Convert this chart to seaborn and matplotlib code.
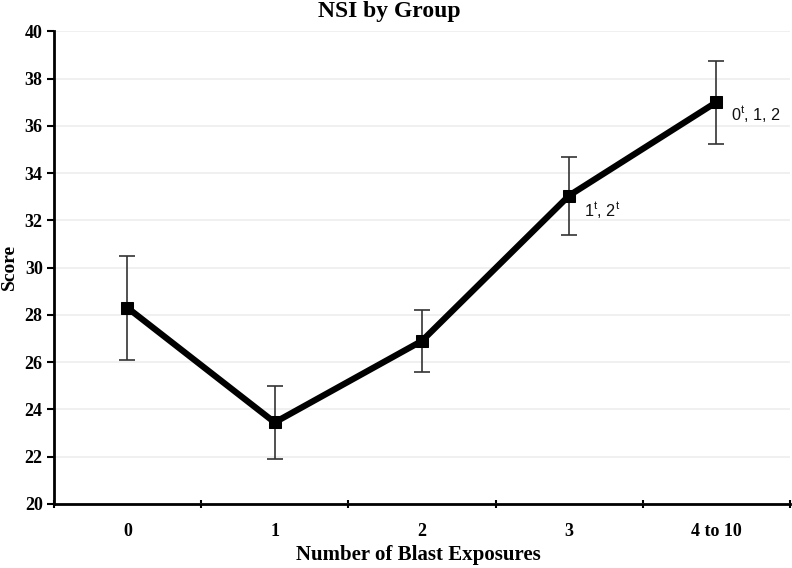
import matplotlib
matplotlib.use("Agg")
import matplotlib.pyplot as plt
import seaborn as sns
import pandas as pd
from matplotlib.ticker import FixedLocator, NullFormatter

groups = ["0", "1", "2", "3", "4 to 10"]
means = [28.3, 23.45, 26.9, 33.05, 37.0]
errs = [2.2, 1.55, 1.3, 1.65, 1.75]
annotations = {3: "1$^{\\mathregular{t}}$, 2$^{\\mathregular{t}}$", 4: "0$^{\\mathregular{t}}$, 1, 2"}

df = pd.DataFrame({"group": groups, "mean": means, "err": errs})

sns.set_theme(style="white")
plt.rcParams["font.family"] = ["Liberation Serif", "DejaVu Serif"]

fig = plt.figure(figsize=(7.92, 5.68), dpi=100)
ax = fig.add_axes([0.068, 0.1127, 0.9295, 0.8323])

ax.errorbar(df["group"], df["mean"], yerr=df["err"], fmt="none", ecolor="#333333",
            elinewidth=1.2, capsize=6, capthick=1.2, zorder=2)
sns.lineplot(data=df, x="group", y="mean", ax=ax, color="black", linewidth=4.5,
             marker="s", markersize=9, markeredgecolor="black", sort=False, zorder=3)
ax.set_xlabel("")
ax.set_ylabel("")

offsets = {3: -0.62, 4: -0.5}
for i, txt in annotations.items():
    ax.text(i + 0.1, means[i] + offsets[i], txt,
            fontsize=11.7, family="Liberation Sans", va="center", ha="left", color="#111111")

ax.set_xlim(-0.5, 4.5)
ax.set_ylim(20, 40)
ax.set_yticks(range(20, 41, 2))
ax.yaxis.grid(True, color="#eeeeee", linewidth=1.2)
ax.xaxis.grid(False)
ax.set_axisbelow(True)

ax.set_xticks(range(len(groups)))
ax.set_xticklabels(groups)
ax.xaxis.set_minor_locator(FixedLocator([-0.5, 0.5, 1.5, 2.5, 3.5, 4.5]))
ax.xaxis.set_minor_formatter(NullFormatter())
ax.tick_params(axis="x", which="major", length=0, pad=14)
ax.tick_params(axis="x", which="minor", length=6, width=1.5, direction="inout", color="black", bottom=True)
ax.tick_params(axis="y", length=5, width=1.5, direction="out", color="black", left=True, pad=3)

for lab in ax.get_xticklabels() + ax.get_yticklabels():
    lab.set_fontweight("bold")
    lab.set_fontsize(13)
    lab.set_color("black")

for s in ["top", "right"]:
    ax.spines[s].set_visible(False)
for s in ["left", "bottom"]:
    ax.spines[s].set_color("black")
    ax.spines[s].set_linewidth(2)

fig.text(418 / 792, 1 - 555 / 568, "Number of Blast Exposures", ha="center", va="center",
         fontsize=15, fontweight="bold", color="black")
fig.text(9 / 792, 1 - 267 / 568, "Score", ha="center", va="center", rotation=90,
         fontsize=14, fontweight="bold", color="black")
fig.text(389 / 792, 1 - 12 / 568, "NSI by Group", ha="center", va="center",
         fontsize=17, fontweight="bold", color="black")

fig.savefig("out.png", dpi=100)
